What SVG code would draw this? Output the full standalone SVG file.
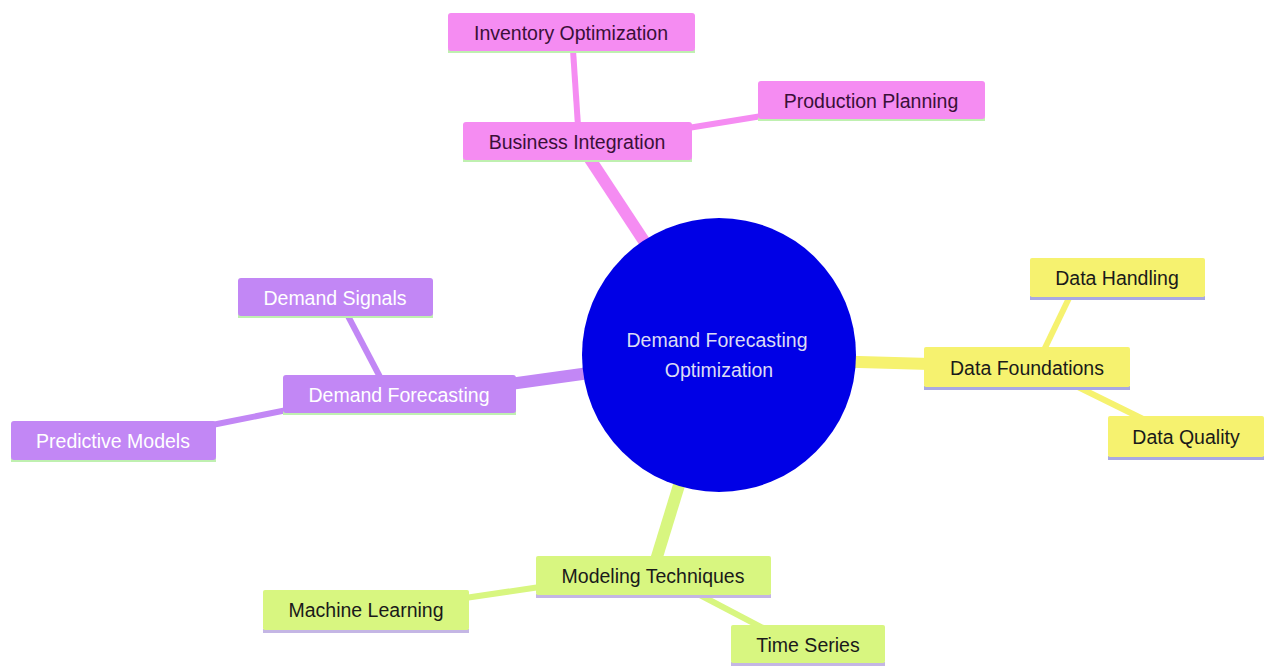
<svg xmlns="http://www.w3.org/2000/svg" width="1264" height="667" viewBox="0 0 1264 667">
<style>
text{font-family:"Liberation Sans",Arial,sans-serif;font-size:19.5px;text-anchor:middle;dominant-baseline:central}
.e{fill:none;stroke-linecap:butt}
.main{stroke-width:12}
.leaf{stroke-width:6}
.pk{stroke:#f58cf2}
.pu{stroke:#c287f5}
.ye{stroke:#f6f26f}
.gr{stroke:#d8f680}
.n-pk rect.b{fill:#f58cf2}
.n-pu rect.b{fill:#c287f5}
.n-ye rect.b{fill:#f6f26f}
.n-gr rect.b{fill:#d8f680}
.n-pk rect.u,.n-pu rect.u{fill:#bff0b0}
.n-ye rect.u{fill:#a9a9e2}
.n-gr rect.u{fill:#c4b6e4}
.n-pk text{fill:#3a1038}
.n-pu text{fill:#ffffff}
.n-ye text,.n-gr text{fill:#1a1a1a}
</style>
<rect width="1264" height="667" fill="#ffffff"/>
<g id="connectors">
<line class="e main pk" x1="719" y1="355" x2="588" y2="156"/>
<line class="e main pu" x1="719" y1="355" x2="510" y2="384"/>
<line class="e main ye" x1="719" y1="358" x2="930" y2="364"/>
<line class="e main gr" x1="719" y1="355" x2="656" y2="560"/>
<line class="e leaf pk" x1="573" y1="50" x2="578" y2="126"/>
<line class="e leaf pk" x1="688" y1="128" x2="762" y2="116"/>
<line class="e leaf pu" x1="348" y1="316" x2="380" y2="377"/>
<line class="e leaf pu" x1="212" y1="425" x2="287" y2="410"/>
<line class="e leaf ye" x1="1070" y1="296" x2="1044" y2="350"/>
<line class="e leaf ye" x1="1078" y1="387" x2="1143" y2="419"/>
<line class="e leaf gr" x1="465" y1="598" x2="540" y2="587"/>
<line class="e leaf gr" x1="698" y1="594" x2="763" y2="628"/>
</g>
<g id="root">
<circle cx="719" cy="355" r="137" fill="#0000e6"/>
<text x="717" y="340" fill="#dcdcf4">Demand Forecasting</text>
<text x="719" y="370" fill="#dcdcf4">Optimization</text>
</g>
<g id="business-integration" class="n-pk">
<rect class="u" x="463" y="158" width="229" height="4"/>
<rect class="b" x="463" y="122" width="229" height="38" rx="3"/>
<text x="577" y="142">Business Integration</text>
</g>
<g id="inventory-optimization" class="n-pk">
<rect class="u" x="448" y="49" width="247" height="4"/>
<rect class="b" x="448" y="13" width="247" height="38" rx="3"/>
<text x="571" y="33">Inventory Optimization</text>
</g>
<g id="production-planning" class="n-pk">
<rect class="u" x="758" y="117" width="227" height="4"/>
<rect class="b" x="758" y="81" width="227" height="38" rx="3"/>
<text x="871" y="101">Production Planning</text>
</g>
<g id="demand-forecasting" class="n-pu">
<rect class="u" x="283" y="411" width="233" height="4"/>
<rect class="b" x="283" y="375" width="233" height="38" rx="3"/>
<text x="399" y="395">Demand Forecasting</text>
</g>
<g id="demand-signals" class="n-pu">
<rect class="u" x="238" y="314" width="195" height="4"/>
<rect class="b" x="238" y="278" width="195" height="38" rx="3"/>
<text x="335" y="298">Demand Signals</text>
</g>
<g id="predictive-models" class="n-pu">
<rect class="u" x="11" y="458" width="205" height="4"/>
<rect class="b" x="11" y="421" width="205" height="39" rx="3"/>
<text x="113" y="441">Predictive Models</text>
</g>
<g id="data-foundations" class="n-ye">
<rect class="u" x="924" y="386" width="206" height="4"/>
<rect class="b" x="924" y="347" width="206" height="40" rx="2"/>
<text x="1027" y="368">Data Foundations</text>
</g>
<g id="data-handling" class="n-ye">
<rect class="u" x="1030" y="296" width="175" height="4"/>
<rect class="b" x="1030" y="258" width="175" height="39" rx="2"/>
<text x="1117" y="278">Data Handling</text>
</g>
<g id="data-quality" class="n-ye">
<rect class="u" x="1108" y="456" width="156" height="4"/>
<rect class="b" x="1108" y="416" width="156" height="41" rx="2"/>
<text x="1186" y="437">Data Quality</text>
</g>
<g id="modeling-techniques" class="n-gr">
<rect class="u" x="536" y="594" width="235" height="4"/>
<rect class="b" x="536" y="556" width="235" height="39" rx="2"/>
<text x="653" y="576">Modeling Techniques</text>
</g>
<g id="machine-learning" class="n-gr">
<rect class="u" x="263" y="629" width="206" height="4"/>
<rect class="b" x="263" y="590" width="206" height="40" rx="2"/>
<text x="366" y="610">Machine Learning</text>
</g>
<g id="time-series" class="n-gr">
<rect class="u" x="731" y="662" width="154" height="4"/>
<rect class="b" x="731" y="625" width="154" height="38" rx="2"/>
<text x="808" y="645">Time Series</text>
</g>
</svg>
